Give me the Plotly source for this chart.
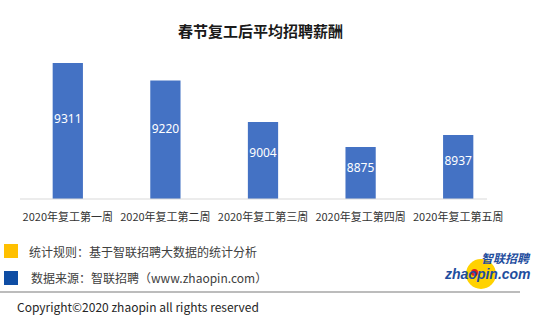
import plotly.graph_objects as go

categories = ["2020年复工第一周", "2020年复工第二周", "2020年复工第三周", "2020年复工第四周", "2020年复工第五周"]
salaries = [9311, 9220, 9004, 8875, 8937]
title_text = "春节复工后平均招聘薪酬"
note_rule = "统计规则：基于智联招聘大数据的统计分析"
note_source = "数据来源：智联招聘（www.zhaopin.com）"
copyright_text = "Copyright©2020 zhaopin all rights reserved"

W, H = 544, 325
L, R, T, B = 19, 37, 40, 126
PW, PH = W - L - R, H - T - B
Y_FLOOR = 8605
Y_PER_PX = 5.19


def px(x):
    return (x - L) / PW


def py(y):
    return (H - B - y) / PH


FONT = "Noto Sans CJK SC"

fig = go.Figure()
fig.add_trace(go.Bar(
    x=categories, y=salaries, width=0.31,
    marker=dict(color="#4472C4", line=dict(width=0)),
    textposition="none", hoverinfo="x+y",
))
# value labels placed inside the visible part of each bar
fig.add_trace(go.Scatter(
    x=categories, y=[Y_FLOOR + 0.58 * (v - Y_FLOOR) for v in salaries],
    mode="text", text=[str(v) for v in salaries],
    textfont=dict(color="white", size=12, family="Noto Sans"),
    hoverinfo="skip",
))

shapes = [
    dict(type="line", xref="paper", yref="paper", x0=px(20), x1=px(487), y0=0, y1=0,
         line=dict(color="#d9d9d9", width=1)),
    dict(type="rect", xref="paper", yref="paper", x0=px(4), x1=px(18), y0=py(258), y1=py(244),
         fillcolor="#FFC000", line=dict(width=0)),
    dict(type="rect", xref="paper", yref="paper", x0=px(4), x1=px(18), y0=py(285), y1=py(271),
         fillcolor="#0E4DA4", line=dict(width=0)),
    dict(type="line", xref="paper", yref="paper", x0=px(0), x1=px(520), y0=py(292), y1=py(292),
         line=dict(color="#a6a6a6", width=1.5)),
    dict(type="circle", xref="paper", yref="paper", x0=px(466), x1=px(496), y0=py(289), y1=py(259),
         fillcolor="#FFD200", line=dict(width=0), layer="below"),
    dict(type="circle", xref="paper", yref="paper", x0=px(471), x1=px(478), y0=py(276), y1=py(269),
         fillcolor="#E0201B", line=dict(width=0)),
]

annotations = [
    dict(text="<b>" + title_text + "</b>", x=px(260), y=py(30), xref="paper", yref="paper",
         showarrow=False, xanchor="center", yanchor="middle",
         font=dict(size=15, color="#1a1a1a", family=FONT)),
    dict(text=note_rule, x=px(27), y=py(251), xref="paper", yref="paper", showarrow=False,
         xanchor="left", yanchor="middle", font=dict(size=12, color="#404040", family=FONT)),
    dict(text=note_source, x=px(29), y=py(277), xref="paper", yref="paper", showarrow=False,
         xanchor="left", yanchor="middle", font=dict(size=12, color="#404040", family=FONT)),
    dict(text=copyright_text, x=px(15), y=py(306), xref="paper", yref="paper", showarrow=False,
         xanchor="left", yanchor="middle", font=dict(size=12, color="#262626", family=FONT)),
    dict(text="<b><i>智联招聘</i></b>", x=px(533), y=py(257), xref="paper", yref="paper", showarrow=False,
         xanchor="right", yanchor="middle", font=dict(size=12, color="#1F4E9E", family=FONT)),
    dict(text="<b><i>zhaopin.com</i></b>", x=px(533), y=py(274), xref="paper", yref="paper", showarrow=False,
         xanchor="right", yanchor="middle", font=dict(size=14, color="#1F4E9E", family="Liberation Sans")),
]

fig.update_layout(
    width=W, height=H,
    margin=dict(l=L, r=R, t=T, b=B),
    paper_bgcolor="white", plot_bgcolor="white",
    showlegend=False,
    shapes=shapes, annotations=annotations,
    xaxis=dict(showline=False, showgrid=False, zeroline=False, tickangle=0,
               ticks="outside", ticklen=8, tickcolor="rgba(0,0,0,0)",
               tickfont=dict(size=11, color="#333333", family=FONT)),
    yaxis=dict(range=[Y_FLOOR, Y_FLOOR + PH * Y_PER_PX], visible=False, showgrid=False),
)

fig.write_html("out.html")
